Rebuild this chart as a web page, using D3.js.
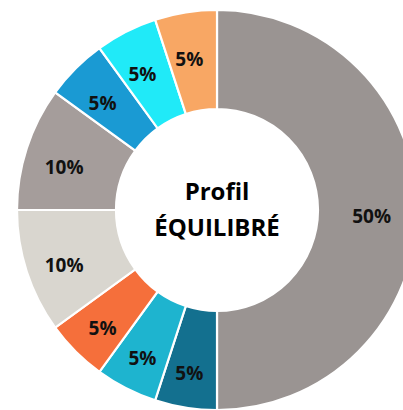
<!DOCTYPE html>
<html><head><meta charset="utf-8">
<script src="https://cdn.jsdelivr.net/npm/d3@7"></script>
<style>html,body{margin:0;padding:0;background:#fff;overflow:hidden}</style>
</head><body><svg id="c" width="403" height="410"></svg>
<script>
const categories = ["A","B","C","D","E","F","G","H","I"];
const values = [50,5,5,5,10,10,5,5,5];
const labels = ["50%","5%","5%","5%","10%","10%","5%","5%","5%"];
const colors = ["#9a9492","#13708f","#1eb4cf","#f56f3b","#d9d6cf","#a59d9b","#1a9ad3","#20eaf8","#f8a764"];
const centerLines = ["Profil","ÉQUILIBRÉ"];

const svg = d3.select("#c");
const cx = 217, cy = 210, rOut = 200, rIn = 101;
const g = svg.append("g").attr("transform",`translate(${cx},${cy})`);
const pie = d3.pie().sort(null).value(d=>d.v);
const data = pie(categories.map((c,i)=>({c, v:values[i], l:labels[i], col:colors[i]})));
const arc = d3.arc().innerRadius(rIn).outerRadius(rOut);
const labelArc = d3.arc().innerRadius(153).outerRadius(153);
g.selectAll("path").data(data).join("path")
  .attr("d",arc).attr("fill",d=>d.data.col)
  .attr("stroke","#fff").attr("stroke-width",2.2);
g.selectAll("text.lbl").data(data).join("text").attr("class","lbl")
  .attr("transform",d=>{const [x,y]=labelArc.centroid(d);return `translate(${x*1.03-3},${y*1.04+6})`;})
  .attr("text-anchor","middle").attr("dy","0.36em")
  .style("font-family","'Open Sans',sans-serif").style("font-weight","700").style("font-size","19px")
  .attr("fill","#111").text(d=>d.data.l);
g.selectAll("text.ctr").data(centerLines).join("text").attr("class","ctr")
  .attr("x",0).attr("y",(d,i)=>i===0?-18:18).attr("dy","0.35em")
  .attr("text-anchor","middle")
  .style("font-family","'Open Sans',sans-serif").style("font-weight","700").style("font-size","24px")
  .attr("fill","#000").text(d=>d);
</script></body></html>
